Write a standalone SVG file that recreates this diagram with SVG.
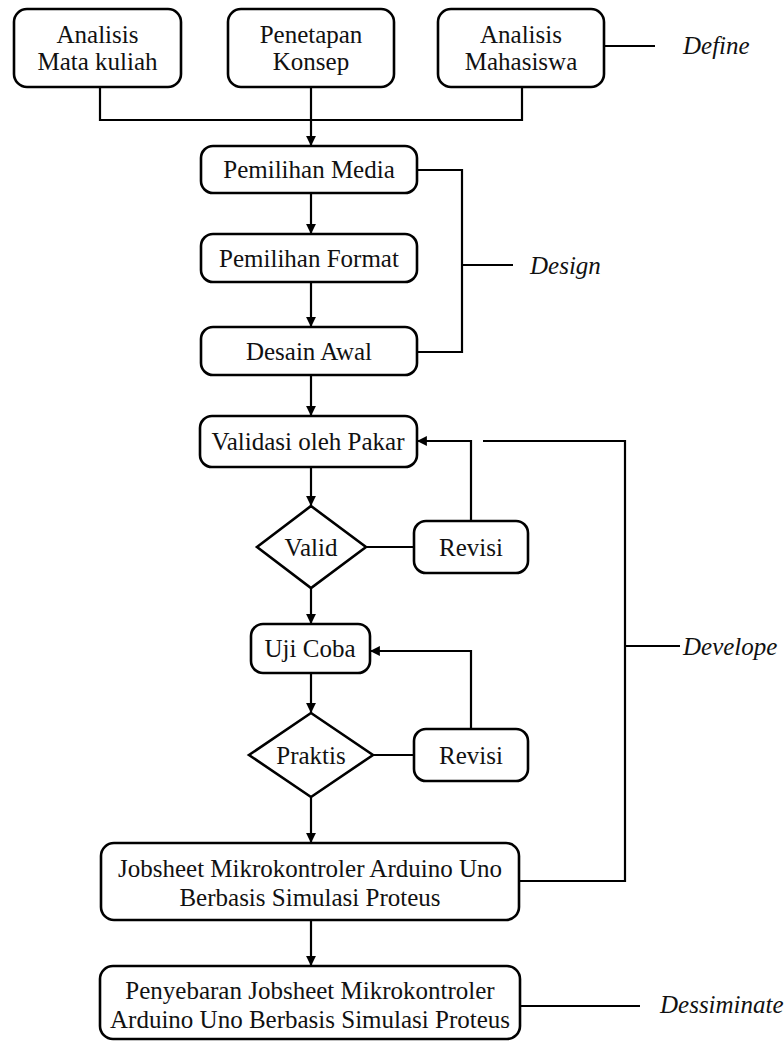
<svg xmlns="http://www.w3.org/2000/svg" width="784" height="1042" viewBox="0 0 784 1042">
<style>
.box{fill:#fff;stroke:#000;stroke-width:2.6}
.t{font-family:'Liberation Serif',Tinos,'Times New Roman',Times,serif;font-size:25px;fill:#111;text-anchor:middle}
.i{font-family:'Liberation Serif',Tinos,'Times New Roman',Times,serif;font-size:25px;font-style:italic;fill:#111}
.c{fill:none;stroke:#000;stroke-width:2.2}
</style>
<defs>
<marker id="ah" viewBox="0 0 10 10" refX="10" refY="5" markerWidth="4.5" markerHeight="4.5" orient="auto" markerUnits="strokeWidth">
<path d="M0,0 L10,5 L0,10 z" fill="#000"/>
</marker>
</defs>
<rect width="784" height="1042" fill="#fff"/>
<g id="connectors">
<path class="c" d="M100,87 V120 H522 V87"/>
<path class="c" d="M311,87 V146" marker-end="url(#ah)"/>
<path class="c" d="M604,46 H655"/>
<path class="c" d="M311,193 V234" marker-end="url(#ah)"/>
<path class="c" d="M311,282 V327" marker-end="url(#ah)"/>
<path class="c" d="M417,170 H462 V352 H417"/>
<path class="c" d="M462,265 H513"/>
<path class="c" d="M311,375 V416" marker-end="url(#ah)"/>
<path class="c" d="M311,467 V506" marker-end="url(#ah)"/>
<path class="c" d="M366,547 H414"/>
<path class="c" d="M471,521 V441 H417" marker-end="url(#ah)"/>
<path class="c" d="M483,441 H625 V881 H519"/>
<path class="c" d="M625,646 H680"/>
<path class="c" d="M311,588 V624" marker-end="url(#ah)"/>
<path class="c" d="M311,673 V713" marker-end="url(#ah)"/>
<path class="c" d="M373,755 H414"/>
<path class="c" d="M471,729 V651 H370" marker-end="url(#ah)"/>
<path class="c" d="M311,797 V843" marker-end="url(#ah)"/>
<path class="c" d="M311,920 V966" marker-end="url(#ah)"/>
<path class="c" d="M520,1006 H640"/>
</g>
<g id="n-analisis-mk">
<rect class="box" x="14" y="9" width="167" height="78" rx="13"/>
<text class="t" x="97.5" y="43">Analisis</text>
<text class="t" x="97.5" y="70">Mata kuliah</text>
</g>
<g id="n-penetapan">
<rect class="box" x="228" y="9" width="166" height="78" rx="13"/>
<text class="t" x="311" y="43">Penetapan</text>
<text class="t" x="311" y="70">Konsep</text>
</g>
<g id="n-analisis-mhs">
<rect class="box" x="438" y="9" width="166" height="78" rx="13"/>
<text class="t" x="521" y="43">Analisis</text>
<text class="t" x="521" y="70">Mahasiswa</text>
</g>
<g id="l-define"><text class="i" x="683" y="54">Define</text></g>
<g id="n-pm">
<rect class="box" x="201" y="146" width="216" height="47" rx="12"/>
<text class="t" x="309" y="178">Pemilihan Media</text>
</g>
<g id="n-pf">
<rect class="box" x="201" y="234" width="216" height="48" rx="12"/>
<text class="t" x="309" y="267">Pemilihan Format</text>
</g>
<g id="n-da">
<rect class="box" x="201" y="327" width="216" height="48" rx="12"/>
<text class="t" x="309" y="360">Desain Awal</text>
</g>
<g id="l-design"><text class="i" x="530" y="274">Design</text></g>
<g id="n-vp">
<rect class="box" x="200" y="416" width="217" height="51" rx="12"/>
<text class="t" x="308" y="450">Validasi oleh Pakar</text>
</g>
<g id="n-valid">
<polygon class="box" points="311,506 366,547 311,588 257,547"/>
<text class="t" x="311" y="556">Valid</text>
</g>
<g id="n-revisi1">
<rect class="box" x="414" y="521" width="114" height="52" rx="12"/>
<text class="t" x="471" y="556">Revisi</text>
</g>
<g id="l-develope"><text class="i" x="683" y="655">Develope</text></g>
<g id="n-uji">
<rect class="box" x="251" y="624" width="119" height="49" rx="12"/>
<text class="t" x="310" y="657">Uji Coba</text>
</g>
<g id="n-praktis">
<polygon class="box" points="311,713 373,755 311,797 249,755"/>
<text class="t" x="311" y="764">Praktis</text>
</g>
<g id="n-revisi2">
<rect class="box" x="414" y="729" width="114" height="52" rx="12"/>
<text class="t" x="471" y="764">Revisi</text>
</g>
<g id="n-jobsheet">
<rect class="box" x="101" y="843" width="418" height="77" rx="13"/>
<text class="t" x="310" y="877">Jobsheet Mikrokontroler Arduino Uno</text>
<text class="t" x="310" y="906">Berbasis Simulasi Proteus</text>
</g>
<g id="n-penyebaran">
<rect class="box" x="100" y="966" width="420" height="73" rx="13"/>
<text class="t" x="310" y="999">Penyebaran Jobsheet Mikrokontroler</text>
<text class="t" x="310" y="1028">Arduino Uno Berbasis Simulasi Proteus</text>
</g>
<g id="l-dessiminate"><text class="i" x="660" y="1013">Dessiminate</text></g>
</svg>
